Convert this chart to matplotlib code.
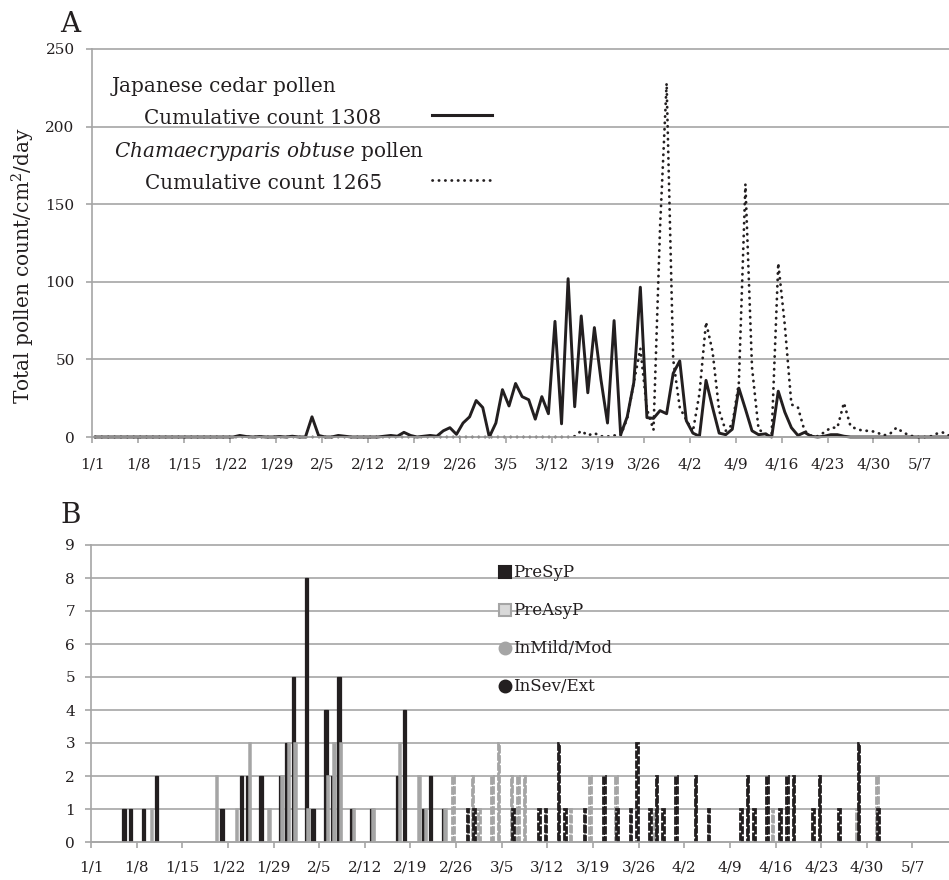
#!/usr/bin/env python3
"""
Pollen counts (A) and symptom onset per day (B), 1/1 - 5/10
"""

import matplotlib
matplotlib.use("Agg")
import matplotlib.pyplot as plt
import numpy as np

plt.rcParams['font.family'] = ['DejaVu Serif']
plt.rcParams['mathtext.fontset'] = 'dejavuserif'

# x axis: a tick every 7 days, day 0 = 1/1
tick_labels = ["1/1", "1/8", "1/15", "1/22", "1/29", "2/5", "2/12", "2/19", "2/26",
               "3/5", "3/12", "3/19", "3/26", "4/2", "4/9", "4/16", "4/23", "4/30", "5/7"]

# panel A: daily pollen count / cm2, one value per day starting 1/1
cedar = [0] * 22 + [
    1, 0.3, 0, 0.3, 0, 0, 0.3, 0, 0.5, 0, 0,            # 1/23 - 2/2
    13, 1, 0, 0, 1, 0.5, 0, 0, 0, 0, 0, 0.5,            # 2/3 - 2/14
    1, 0.5, 3, 1, 0, 0.5, 1, 0.5, 4, 6, 1.7, 9,         # 2/15 - 2/26
    13, 23.5, 19, 0, 9, 30.5, 20, 34.5, 26, 24, 11.5,   # 2/27 - 3/9
    26, 15, 74.5, 8.5, 102, 19.5, 78, 28.5, 70.5, 37,   # 3/10 - 3/19
    9, 75, 1.5, 13, 35, 96.5, 12.5, 12, 17, 15, 41, 49, # 3/20 - 3/31
    10.5, 2.5, 0.5, 36.5, 19, 2.5, 1.5, 5, 31.5, 18,    # 4/1 - 4/10
    4, 1.5, 2, 0, 29.5, 16, 6, 1, 3, 0.5, 0,            # 4/11 - 4/21
    0.5, 1.5, 1.5, 0.5] + [0] * 16                       # 4/22 - 5/11

cypress = [0] * 73 + [
    0.5, 4, 1, 2.5, 0.5, 0.3, 1, 1,                     # 3/15 - 3/22
    12, 35, 57, 18, 4.5, 135, 228, 50, 19, 11, 3.5,     # 3/23 - 4/2
    28, 74, 55, 17, 4, 8, 35, 163, 45, 5, 2, 2,         # 4/3 - 4/14
    112, 72, 21, 19, 4, 1, 0.5,                         # 4/15 - 4/21
    3, 6, 6, 22, 7, 5, 4, 4, 3, 1, 2, 6, 3, 1,          # 4/22 - 5/5
    0, 0, 0, 2, 3, 1]                                   # 5/6 - 5/11

# panel B: patients per day (day index from 1/1, count)
presyp_days = [5, 6, 8, 10, 20, 23, 24, 26, 29, 30, 31, 33, 34, 36, 37, 38, 40, 43,
               47, 48, 51, 52, 54]
presyp_n = [1, 1, 1, 2, 1, 2, 2, 2, 2, 3, 5, 8, 1, 4, 2, 5, 1, 1, 2, 4, 1, 2, 1]

preasyp_days = [9, 19, 22, 24, 27, 29, 30, 31, 33, 36, 37, 38, 40, 43, 47, 50, 51, 54]
preasyp_n = [1, 2, 1, 3, 1, 2, 3, 3, 1, 2, 3, 3, 1, 1, 3, 2, 1, 1]

inmild_days = [55, 58, 59, 61, 62, 64, 65, 66, 73, 76, 80, 86, 104, 117, 120]
inmild_n = [2, 2, 1, 2, 3, 2, 2, 2, 1, 2, 2, 1, 1, 1, 2]

insev_days = [57, 58, 64, 68, 69, 71, 72, 75, 78, 80, 82, 83, 85, 86, 87, 89, 92, 94,
              99, 100, 101, 103, 105, 106, 107, 110, 111, 114, 117, 120]
insev_n = [1, 1, 1, 1, 1, 3, 1, 1, 2, 1, 1, 3, 1, 2, 1, 2, 2, 1,
           1, 2, 1, 2, 1, 2, 2, 1, 2, 1, 3, 1]

GRID = '#a6a6a6'
INK = '#231f20'
LIGHT = '#a5a5a5'

W, H = 949, 880
fig = plt.figure(figsize=(W / 100, H / 100), dpi=100)
ax_a = fig.add_axes([92 / W, 1 - 437 / H, 857 / W, 388 / H])
ax_b = fig.add_axes([91 / W, 1 - 842 / H, 858 / W, 297 / H])


def style_axis(ax, ymax, ystep, xmax, xpad, ypad):
    ax.set_xlim(0, xmax)
    ax.set_ylim(0, ymax)
    ax.set_xticks(range(0, 7 * len(tick_labels), 7))
    ax.set_xticklabels(tick_labels)
    ax.set_yticks(range(0, ymax + 1, ystep))
    ax.yaxis.grid(True, color=GRID, lw=1.2)
    for gl in ax.get_ygridlines():
        gl.set_clip_on(False)
    ax.set_axisbelow(True)
    for s in ('top', 'right'):
        ax.spines[s].set_visible(False)
    for s in ('left', 'bottom'):
        ax.spines[s].set_color(GRID)
        ax.spines[s].set_linewidth(1.2)
    ax.tick_params(colors=GRID, labelcolor=INK, labelsize=11, length=4.5, width=1.2)
    ax.tick_params(axis='x', pad=xpad)
    ax.tick_params(axis='y', pad=ypad)


# ---- panel A ----
style_axis(ax_a, 250, 50, 130.5, 10, 8)
x = np.arange(len(cedar)) + 0.5
ax_a.plot(x, cedar, color=INK, lw=2.1, solid_joinstyle='round', clip_on=False)
x = np.arange(len(cypress)) + 0.5
ax_a.plot(x, cypress, color=INK, lw=2.0, ls=(0, (0.1, 2.2)),
          dash_capstyle='round', clip_on=False)

# legend drawn as free text, as in the source figure
ax_a.text(0.0233, 0.890, "Japanese cedar pollen", transform=ax_a.transAxes,
          fontsize=14.4, color=INK, va='baseline')
ax_a.text(0.0607, 0.807, "Cumulative count 1308", transform=ax_a.transAxes,
          fontsize=14.4, color=INK, va='baseline')
ax_a.text(0.0257, 0.722, r"$\it{Chamaecryparis\ obtuse}$ pollen", transform=ax_a.transAxes,
          fontsize=14.4, color=INK, va='baseline')
ax_a.text(0.0618, 0.638, "Cumulative count 1265", transform=ax_a.transAxes,
          fontsize=14.4, color=INK, va='baseline')
ax_a.plot([0.397, 0.467], [0.830, 0.830], transform=ax_a.transAxes, color=INK, lw=2.2)
ax_a.plot([0.397, 0.467], [0.662, 0.662], transform=ax_a.transAxes, color=INK, lw=2.0,
          ls=(0, (0.1, 2.2)), dash_capstyle='round')

fig.text(23 / W, 1 - 266 / H, "Total pollen count/cm$^2$/day", rotation=90,
         ha='center', va='center', fontsize=14.5, color=INK)
fig.text(60 / W, 1 - 32 / H, "A", fontsize=20, color=INK, va='baseline')

# ---- panel B ----
style_axis(ax_b, 9, 1, 131.6, 9, 7)

ax_b.bar(np.array(presyp_days) + 0.5 - 0.44, presyp_n, width=0.55,
         color=INK, edgecolor=INK, lw=0.9)
ax_b.bar(np.array(preasyp_days) + 0.5 - 0.22, preasyp_n, width=0.22,
         facecolor='#d9d9d9', edgecolor=LIGHT, lw=1.8)
ax_b.bar(np.array(inmild_days) + 0.5 + 0.02, inmild_n, width=0.24,
         facecolor='none', edgecolor=LIGHT, lw=2.0, ls=(0, (3, 0.6)))
ax_b.bar(np.array(insev_days) + 0.5 + 0.22, insev_n, width=0.24,
         facecolor='none', edgecolor=INK, lw=2.0, ls=(0, (3, 0.6)))

legend_rows = [
    ("PreSyP", 's', INK, INK),
    ("PreAsyP", 's', '#d9d9d9', LIGHT),
    ("InMild/Mod", 'o', LIGHT, LIGHT),
    ("InSev/Ext", 'o', INK, INK),
]
for i, (label, mk, fc, ec) in enumerate(legend_rows):
    yy = 0.909 - i * 0.128
    ax_b.plot([0.482], [yy], transform=ax_b.transAxes, marker=mk, ms=8.5,
              mfc=fc, mec=ec, mew=1.5, ls='none', clip_on=False)
    ax_b.text(0.492, yy, label, transform=ax_b.transAxes, fontsize=12,
              color=INK, va='center')

fig.text(60 / W, 1 - 523 / H, "B", fontsize=20, color=INK, va='baseline')

fig.savefig("out.png", dpi=100)
